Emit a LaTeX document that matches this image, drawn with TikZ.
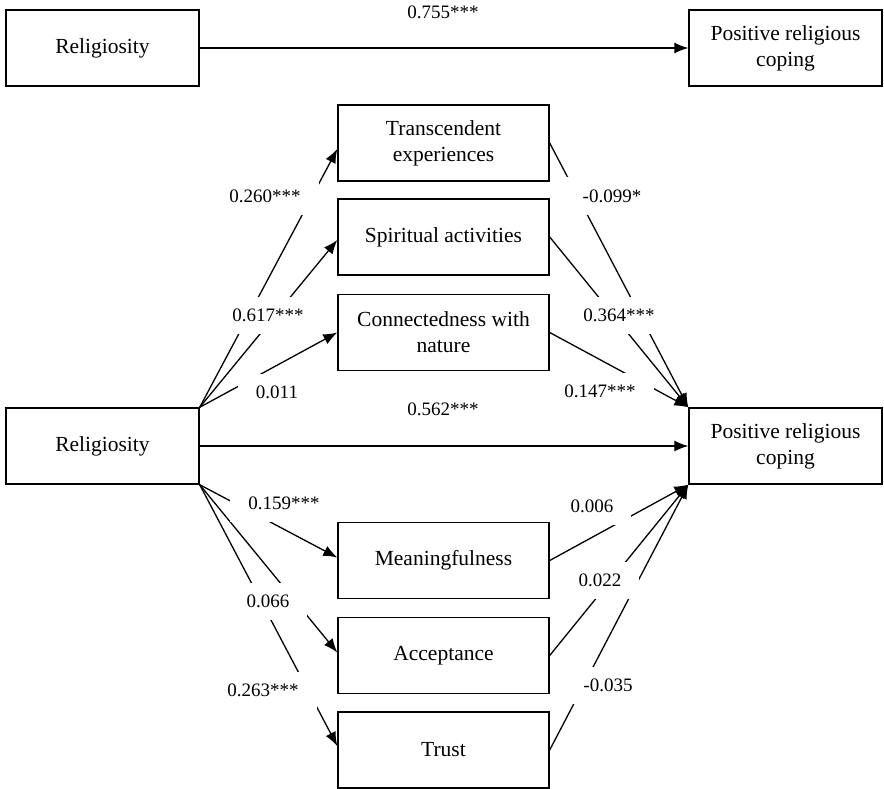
\documentclass[tikz,border=0pt]{standalone}
\usepackage{fontspec}
\setmainfont{Liberation Serif}
\usetikzlibrary{arrows.meta}
\tikzset{
  box/.style={draw, line width=1.4pt, rectangle, minimum width=193pt, minimum height=76pt, inner sep=0pt, align=center, font=\fontsize{21.5}{26}\selectfont},
  medbox/.style={box, minimum width=211pt},
  conn/.style={line width=1.3pt, -{Latex[length=14pt,width=11pt]}},
  coef/.style={fill=white, inner xsep=18pt, inner ysep=0pt, minimum height=37pt, font=\fontsize{19}{22}\selectfont},
}
\begin{document}
\begin{tikzpicture}[x=1pt,y=-1pt]
\useasboundingbox (0,0) rectangle (884,789);
% top model
\node[box] (r1) at (102.5,48) {Religiosity};
\node[box] (p1) at (785.5,48) {Positive religious\\coping};
% main model
\node[box] (r2) at (102.5,446) {Religiosity};
\node[box] (p2) at (785.5,446) {Positive religious\\coping};
\node[medbox] (te) at (443.5,143) {Transcendent\\experiences};
\node[medbox] (sa) at (443.5,237) {Spiritual activities};
\node[medbox] (cn) at (443.5,332.5) {Connectedness with\\nature};
\node[medbox] (mf) at (443.5,560.5) {Meaningfulness};
\node[medbox] (ac) at (443.5,655.5) {Acceptance};
\node[medbox] (tr) at (443.5,750) {Trust};
% connectors
\draw[conn] (r1.east) -- (p1.west);
\draw[conn] (r2.east) -- (p2.west);
\draw[conn] (r2.north east) -- ([yshift=-6pt]te.west);
\draw[conn] (r2.north east) -- ([yshift=-3pt]sa.west);
\draw[conn] (r2.north east) -- (cn.west);
\draw[conn] (r2.south east) -- ([yshift=3pt]mf.west);
\draw[conn] (r2.south east) -- ([yshift=3pt]ac.west);
\draw[conn] (r2.south east) -- ([yshift=4pt]tr.west);
\draw[conn] (te.east) -- (p2.north west);
\draw[conn] (sa.east) -- (p2.north west);
\draw[conn] (cn.east) -- (p2.north west);
\draw[conn] (mf.east) -- (p2.south west);
\draw[conn] (ac.east) -- (p2.south west);
\draw[conn] (tr.east) -- (p2.south west);
% coefficients
\node[coef] (l755) at (443,12.5) {0.755***};
\node[coef] (l260) at (265,196) {0.260***};
\node[coef] (l617) at (268,315) {0.617***};
\node[coef] (l011) at (277,392) {0.011};
\node[coef] (l099) at (612,196) {-0.099*};
\node[coef] (l364) at (619,315) {0.364***};
\node[coef] (l147) at (600,391) {0.147***};
\node[coef] (l562) at (443,409) {0.562***};
\node[coef] (l159) at (284,503.5) {0.159***};
\node[coef] (l066) at (268,601) {0.066};
\node[coef] (l263) at (263,690) {0.263***};
\node[coef] (l006) at (592,506) {0.006};
\node[coef] (l022) at (600,580) {0.022};
\node[coef] (l035) at (608,685) {-0.035};
\end{tikzpicture}
\end{document}
